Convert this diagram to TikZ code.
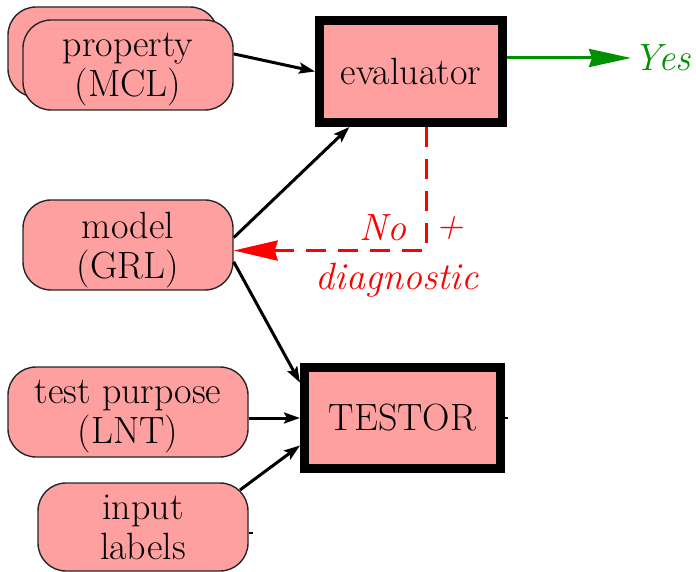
\documentclass[tikz,border=0pt]{standalone}
\usetikzlibrary{arrows.meta,calc}
\definecolor{nodefill}{RGB}{255,160,160}
\definecolor{yesgreen}{RGB}{0,145,0}
\definecolor{nored}{RGB}{255,0,0}
\begin{document}
\begin{tikzpicture}[x=0.5pt,y=-0.5pt,
  txt/.style={font=\rmfamily\fontsize{19}{20}\selectfont},
  pill/.style={txt, draw=black!85, fill=nodefill, line width=0.7pt,
    rounded corners=14pt, align=center, inner sep=0pt, text depth=0pt,
    minimum width=105pt, minimum height=45pt},
  tool/.style={txt, draw=black, fill=nodefill, line width=4.5pt,
    inner sep=0pt},
  flow/.style={draw=black, line width=1.5pt,
    -{Stealth[length=8pt,width=5.5pt,inset=1.5pt]}},
  okflow/.style={draw=yesgreen, line width=1.5pt,
    -{Stealth[length=21pt,width=9pt,inset=1.5pt]}},
  koflow/.style={draw=nored, line width=1.5pt, dash pattern=on 10pt off 6pt,
    -{Stealth[length=22pt,width=10pt,inset=1.5pt]}},
  kolabel/.style={text=nored, font=\rmfamily\itshape\fontsize{19}{19}\selectfont, inner sep=0pt},
]
\useasboundingbox (0,0) rectangle (696,572);

% input sources
\node[pill] (propback) at (113,52) {};
\node[pill] (prop) at (128,65) {property\\(MCL)};
\node[pill] (model) at (128,245) {model\\(GRL)};
\node[pill, minimum width=120pt] (tp) at (128,412) {test purpose\\(LNT)};
\node[pill, minimum height=44pt] (input) at (143,527) {input\\labels};

% tools
\node[tool, minimum width=91.5pt, minimum height=51pt] (eval) at (411,71.5) {evaluator};
\node[tool, minimum width=98pt, minimum height=50.5pt] (testor) at (402.5,418) {TESTOR};

% verdict
\node[text=yesgreen, font=\rmfamily\itshape\fontsize{19}{19}\selectfont, anchor=west, inner sep=1pt] (yes) at (631,58) {Yes};

% flows
\draw[flow] (prop.6.5) -- (eval.west);
\draw[flow] (model.4.4) -- (eval.222.3);
\draw[flow] (model.-9.2) -- (testor.161.1);
\draw[flow] (tp.east |- testor.west) -- (testor.west);
\draw[flow] ($(input.center)+(97,-37)$) -- (testor.195.8);
\draw[okflow] (eval.east |- yes.west) -- (yes.west);
\draw[koflow] (eval.286.1) |- (model.-3.8);

% stubs on the right edges
\draw[line width=1pt] (testor.east) -- ++(3,0);
\draw[line width=1pt] (input.-3.3) -- ++(4,0);

% counter-example label
\node[kolabel] (no) at (383,228) {No};
\node[kolabel] (plus) at (450,228) {+};
\node[kolabel] (diag) at (397,280) {diagnostic};
\end{tikzpicture}
\end{document}
